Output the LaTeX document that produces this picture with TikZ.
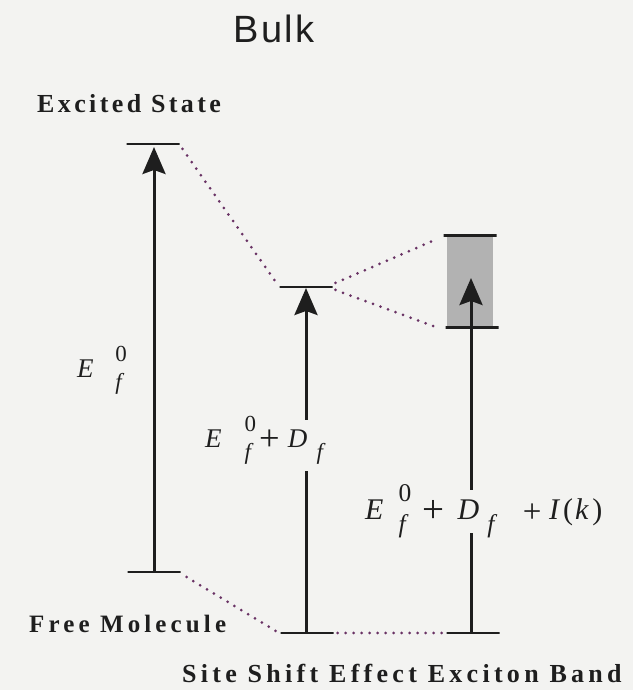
\documentclass[tikz,border=0pt]{standalone}
\usepackage{fontspec}
\setmainfont{Liberation Serif}
\newfontfamily\lblfont[LetterSpace=13]{Liberation Serif}
\newfontfamily\titlefont[LetterSpace=7]{Liberation Sans}
\usetikzlibrary{arrows.meta}
\definecolor{paper}{RGB}{243,243,241}
\definecolor{ink}{RGB}{30,30,30}
\definecolor{dotpurple}{RGB}{105,50,100}
\definecolor{bandgray}{RGB}{178,178,178}
\newcommand{\zf}{\makebox[0pt][l]{\raisebox{0.6em}{\scalebox{0.85}{0}}}\raisebox{-0.42em}{\scalebox{0.85}{\itshape f}}}
\newcommand{\subf}{\raisebox{-0.42em}{\scalebox{0.85}{\itshape f}}}
\newcommand{\bigplus}[1]{\raisebox{-0.1em}{\scalebox{#1}{+}}}
\tikzset{
  lvl/.style={draw=ink, line width=2.8pt, minimum width=53pt, minimum height=0pt, inner sep=0pt, outer sep=0pt},
  shaft/.style={draw=ink, line width=3pt},
  arr/.style={shaft, -{Stealth[length=27pt, width=23pt, inset=4pt]}},
  link/.style={dotpurple, line width=3pt, line cap=round, dash pattern=on 0pt off 8pt},
  word/.style={anchor=base west, inner sep=0pt, text=ink, font=\lblfont\bfseries\fontsize{26}{30}\selectfont},
  eq/.style={anchor=base west, inner sep=0pt, text=ink, font=\fontsize{27}{30}\selectfont},
}

\begin{document}
\begin{tikzpicture}[x=1pt, y=1pt]
    \useasboundingbox[fill=paper] (0,0) rectangle (633,690);
    \node[anchor=base, inner sep=0pt, text=ink, font=\titlefont\fontsize{38}{44}\selectfont] (bulk) at (274,647) {Bulk};
    % energy levels
    \node[lvl] (ex) at (153,546) {};
    \node[lvl] (gs) at (154,118) {};
    \node[lvl] (ss) at (306,403) {};
    \node[lvl] (ssg) at (307,57) {};
    \node[fill=bandgray, minimum width=46pt, minimum height=91pt, inner sep=0pt] (band) at (470,408.5) {};
    \node[lvl] (bandtop) at (band.north) {};
    \node[lvl] (bandbot) at ([xshift=2pt]band.south) {};
    \node[lvl] (exg) at (473,57) {};
    % transitions
    \coordinate (ssa) at (306,219);
    \coordinate (ssb) at (306,270);
    \coordinate (ika) at (471,157);
    \coordinate (ikb) at (471,200);
    \coordinate (iktip) at (471,412);
    \draw[arr, shorten >=3pt] (gs.center) -- (gs.center |- ex.center);
    \draw[shaft] (ss.center |- ssg.center) -- (ssa);
    \draw[arr, shorten >=1pt] (ssb) -- (ss.center);
    \draw[shaft] (ika |- exg.center) -- (ika);
    \draw[arr] (ikb) -- (iktip);
    % correlation lines
    \draw[link] ([shift={(3pt,-5pt)}]ex.east) -- ([shift={(-3pt,4pt)}]ss.west);
    \draw[link] ([shift={(3pt,4pt)}]ss.east) -- ([shift={(-6pt,-3pt)}]bandtop.west);
    \draw[link] ([shift={(3pt,-3pt)}]ss.east) -- ([shift={(-12pt,1pt)}]bandbot.west);
    \draw[link] ([shift={(6pt,-5pt)}]gs.east) -- ([shift={(-3pt,1pt)}]ssg.west);
    \draw[link] ([xshift=4pt]ssg.east) -- ([xshift=-2pt]exg.west);
    % labels
    \node[word] (exlbl) at (37,577) {Excited State};
    \node[word, font=\lblfont\bfseries\fontsize{25}{30}\selectfont\addfontfeatures{LetterSpace=16.5}] (fmlbl) at (29,57) {Free Molecule};
    \node[word, font=\lblfont\bfseries\fontsize{26}{30}\selectfont\addfontfeatures{LetterSpace=16.5}] (sslbl) at (182,7) {Site Shift Effect Exciton Band};
    \node[eq] (eflbl) at (77,312) {\textit{E}\hspace{0.8em}\zf};
    \node[eq] (sslbl2) at (205,242) {\textit{E}\hspace{0.85em}\zf\hspace{0.3em}\bigplus{1.35}\hspace{0.3em}\textit{D}\hspace{0.35em}\subf};
    \node[eq, font=\fontsize{30}{34}\selectfont] (iklbl) at (365,170) {\textit{E}\hspace{0.5em}\zf\hspace{0.55em}\bigplus{1.3}\hspace{0.45em}\textit{D}\hspace{0.27em}\subf\hspace{0.95em}\bigplus{1.1}\hspace{0.25em}\textit{I}\hspace{0.1em}(\hspace{0.06em}\textit{k}\hspace{0.12em})};
\end{tikzpicture}
\end{document}
